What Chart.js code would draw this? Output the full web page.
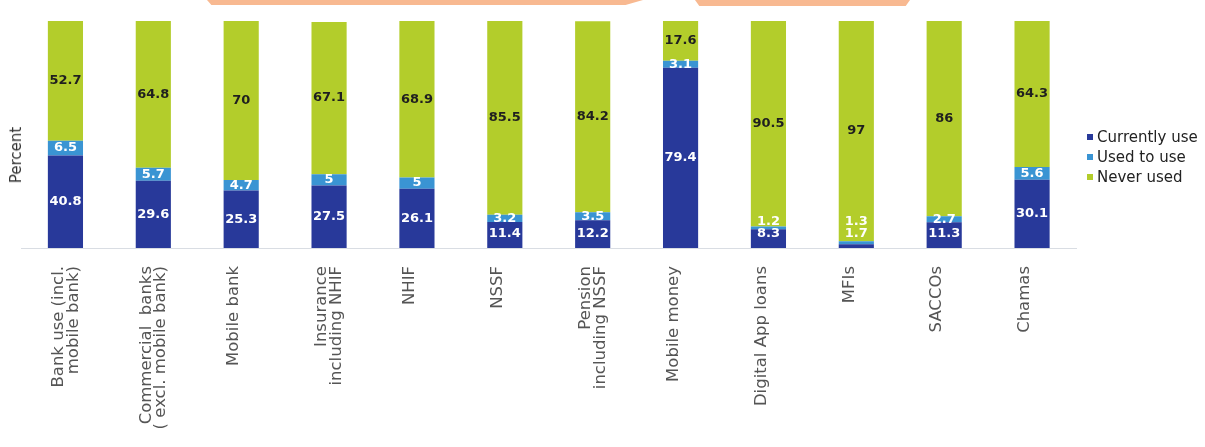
<!DOCTYPE html>
<html>
<head>
<meta charset="utf-8">
<title>Usage of financial services</title>
<script src="https://cdn.jsdelivr.net/npm/chart.js@4.4.1/dist/chart.umd.min.js"></script>
<style>
  html, body { margin: 0; padding: 0; background: #fff; }
  .wrap { position: relative; width: 1205px; height: 447px; overflow: hidden; }
  .deco { position: absolute; top: 0; background: #f8b991; }
  .deco.a { left: 207px; width: 436px; height: 5px; clip-path: polygon(0 0, 100% 0, 96% 100%, 1% 100%); }
  .deco.b { left: 695px; width: 215px; height: 6px; clip-path: polygon(0 0, 100% 0, 98% 100%, 2% 100%); }
  .ytitle {
    position: absolute; left: 16px; top: 155px;
    transform: translate(-50%, -50%) rotate(-90deg);
    font: 15px "DejaVu Sans", sans-serif; color: #333; white-space: nowrap;
  }
  .legend { position: absolute; left: 1087px; top: 127px; font: 15px "DejaVu Sans", sans-serif; color: #222; }
  .legend div { height: 20px; line-height: 20px; white-space: nowrap; }
  .legend span { display: inline-block; width: 6px; height: 6px; margin-right: 4px; vertical-align: middle; position: relative; top: -1px; }
</style>
</head>
<body>
<div class="wrap">
  <canvas id="usageChart" width="1205" height="447"></canvas>
  <div class="deco a"></div>
  <div class="deco b"></div>
  <div class="ytitle">Percent</div>
  <div class="legend" id="legend"></div>
</div>
<script>
// ── Data ──────────────────────────────────────────────────
const CATEGORIES = [
  ['Bank use (incl.', 'mobile bank)'],
  ['Commercial  banks', '( excl. mobile bank)'],
  'Mobile bank',
  ['Insurance', 'including NHIF'],
  'NHIF',
  'NSSF',
  ['Pension', 'including NSSF'],
  'Mobile money',
  'Digital App loans',
  'MFIs',
  'SACCOs',
  'Chamas'
];
const SERIES_NAMES  = ['Currently use', 'Used to use', 'Never used'];
const CURRENTLY_USE = [40.8, 29.6, 25.3, 27.5, 26.1, 11.4, 12.2, 79.4, 8.3, 1.7, 11.3, 30.1];
const USED_TO_USE   = [6.5, 5.7, 4.7, 5, 5, 3.2, 3.5, 3.1, 1.2, 1.3, 2.7, 5.6];
const NEVER_USED    = [52.7, 64.8, 70, 67.1, 68.9, 85.5, 84.2, 17.6, 90.5, 97, 86, 64.3];

const COLORS       = ['#28399a', '#3a94d3', '#b3cd2b'];
const LABEL_COLORS = ['#ffffff', '#ffffff', '#1f1f1f'];

// ── Value labels inside the stacked segments ──────────────
const valueLabels = {
  id: 'valueLabels',
  afterDatasetsDraw(chart) {
    const ctx = chart.ctx;
    ctx.save();
    ctx.font = 'bold 13px "DejaVu Sans", sans-serif';
    ctx.textAlign = 'center';
    ctx.textBaseline = 'middle';
    chart.data.labels.forEach((_, i) => {
      let prev = null;
      chart.data.datasets.forEach((ds, d) => {
        const bar = chart.getDatasetMeta(d).data[i];
        if (!bar) return;
        let y = (bar.y + bar.base) / 2;
        // keep small segments' labels from piling up
        y = prev === null ? Math.min(y, bar.base - 14) : Math.min(y, prev - 12);
        prev = y;
        ctx.fillStyle = LABEL_COLORS[d];
        ctx.fillText(String(ds.data[i]), bar.x, y);
      });
    });
    ctx.restore();
  }
};

const seriesData = [CURRENTLY_USE, USED_TO_USE, NEVER_USED];

new Chart(document.getElementById('usageChart'), {
  type: 'bar',
  data: {
    labels: CATEGORIES,
    datasets: SERIES_NAMES.map((name, k) => ({
      label: name,
      data: seriesData[k],
      backgroundColor: COLORS[k],
      borderWidth: 0,
      barPercentage: 0.4,
      categoryPercentage: 1
    }))
  },
  options: {
    responsive: false,
    animation: false,
    layout: { padding: { left: 21.5, right: 129, top: 21, bottom: 0 } },
    plugins: { legend: { display: false }, tooltip: { enabled: false } },
    scales: {
      x: {
        stacked: true,
        grid: { display: false, drawTicks: false },
        border: { display: true, color: '#d9dde3', width: 1 },
        ticks: {
          autoSkip: false, minRotation: 90, maxRotation: 90,
          padding: 18, labelOffset: -7,
          color: '#555',
          font: { family: '"DejaVu Sans", sans-serif', size: 16.5, lineHeight: 0.9 }
        },
        afterFit: s => { s.height = 199; }
      },
      y: { stacked: true, display: false, min: 0, max: 100 }
    }
  },
  plugins: [valueLabels]
});

// ── Legend ────────────────────────────────────────────────
document.getElementById('legend').innerHTML = SERIES_NAMES
  .map((n, k) => `<div><span style="background:${COLORS[k]}"></span>${n}</div>`)
  .join('');
</script>
</body>
</html>
